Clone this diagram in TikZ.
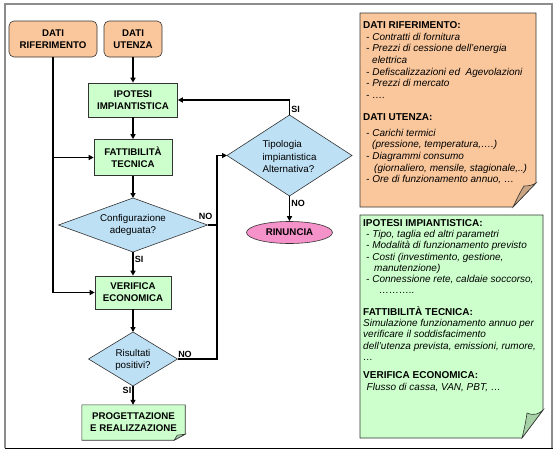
\documentclass[tikz,border=0pt]{standalone}
\usepackage{fontspec}
\setmainfont{Liberation Sans}
\usetikzlibrary{arrows.meta,shapes.geometric,backgrounds}
\definecolor{orfill}{HTML}{FAC79C}
\definecolor{orflap}{HTML}{C9A584}
\definecolor{grfill}{HTML}{CCFFCC}
\definecolor{grflap}{HTML}{A6D1A6}
\definecolor{blfill}{HTML}{BDE0F5}
\definecolor{pkfill}{HTML}{F592C9}
\begin{document}
\begin{tikzpicture}[x=1pt,y=-1pt,
  conn/.style={line width=1.5pt, draw=black},
  arr/.style={conn, -{Triangle[length=5pt,width=5pt]}},
  bord/.style={draw=black!80, line width=0.6pt},
  boxtext/.style={font=\bfseries\fontsize{9.7}{12}\selectfont, align=center, inner sep=0pt},
  datibox/.style={boxtext, bord, fill=orfill, rounded corners=5pt},
  stepbox/.style={boxtext, bord, fill=grfill},
  decision/.style={diamond, bord, fill=blfill, inner sep=0pt, outer sep=0pt},
  dtext/.style={inner sep=0pt, font=\fontsize{9.8}{12.5}\selectfont, align=center},
  lbl/.style={font=\bfseries\fontsize{9}{10}\selectfont, inner sep=1pt},
  notetext/.style={anchor=north west, inner sep=0pt, align=left, font=\itshape\fontsize{10}{11.7}\selectfont},
]
\useasboundingbox (0,0) rectangle (557,453);
% frame
\draw[black!45, line width=1.5pt] (5,448) -- (5,4) -- (552,4) -- (552,448);
\draw[black, line width=1pt] (4.5,448) -- (552.5,448);

% notes (shapes)
\draw[bord, fill=orfill] (360,13) -- (536,13) -- (536,183) -- (513,207) -- (360,207) -- cycle;
\draw[bord, fill=orflap] (513,207) .. controls (517,199) and (520,192) .. (524,186) .. controls (529,186) and (533,185) .. (536,183) -- cycle;
\draw[bord, fill=grfill] (360,215) -- (543,215) -- (543,410) -- (522,438) -- (360,438) -- cycle;
\draw[bord, fill=grflap] (522,438) .. controls (524,430) and (526,421) .. (527,413) .. controls (534,416) and (539,414) .. (543,410) -- cycle;

% note texts
\node[notetext] (rifA) at (363,21.3) {{\upshape\bfseries DATI RIFERIMENTO:}\\
\hspace*{3pt}- Contratti di fornitura\\
\hspace*{3pt}- Prezzi di cessione dell’energia\\
\hspace*{9pt}elettrica\\
\hspace*{3pt}- Defiscalizzazioni ed\ \ Agevolazioni\\
\hspace*{3pt}- Prezzi di mercato\\
\hspace*{3pt}- ….};
\node[notetext] (rifB) at (363,113.4) {{\upshape\bfseries DATI UTENZA:}\\[4pt]
\hspace*{3pt}- Carichi termici\\
\hspace*{9pt}(pressione, temperatura,….)\\
\hspace*{3pt}- Diagrammi consumo\\
\hspace*{11pt}(giornaliero, mensile, stagionale,..)\\
\hspace*{3pt}- Ore di funzionamento annuo, …};
\node[notetext, font=\itshape\fontsize{10}{11.2}\selectfont] (ipA) at (363,219.4) {{\upshape\bfseries IPOTESI IMPIANTISTICA:}\\
\hspace*{3pt}- Tipo, taglia ed altri parametri\\
\hspace*{3pt}- Modalità di funzionamento previsto\\
\hspace*{3pt}- Costi (investimento, gestione,\\
\hspace*{11pt}manutenzione)\\
\hspace*{3pt}- Connessione rete, caldaie soccorso,\\
\hspace*{16pt}………..};
\node[notetext, font=\itshape\fontsize{10}{11.2}\selectfont] (ipB) at (363,306.4) {{\upshape\bfseries FATTIBILITÀ TECNICA:}\\
Simulazione funzionamento annuo per\\
verificare il soddisfacimento\\
dell’utenza prevista, emissioni, rumore,\\
…};
\node[notetext, font=\itshape\fontsize{10}{12}\selectfont] (ipC) at (363,371.4) {{\upshape\bfseries VERIFICA ECONOMICA:}\\
\hspace*{3.5pt}Flusso di cassa, VAN, PBT, …};

% flowchart nodes
\node[datibox, minimum width=88pt, minimum height=36pt] (rif) at (53,39) {DATI\\RIFERIMENTO};
\node[datibox, minimum width=58pt, minimum height=36pt] (ute) at (133,39) {DATI\\UTENZA};
\node[stepbox, minimum width=89pt, minimum height=34pt] (ipo) at (133,100) {IPOTESI\\IMPIANTISTICA};
\node[stepbox, minimum width=78pt, minimum height=36pt] (fat) at (133,157.5) {FATTIBILITÀ\\TECNICA};
\node[decision, minimum width=149pt, minimum height=54pt] (cfg) at (133,225) {};
\node[dtext] (cfgt) at (cfg.center) {Configurazione\\adeguata?};
\node[stepbox, minimum width=76pt, minimum height=33pt] (ver) at (133,292.5) {VERIFICA\\ECONOMICA};
\node[decision, minimum width=89pt, minimum height=54pt] (ris) at (133,359) {};
\node[dtext] (rist) at ([yshift=-1pt]ris.center) {Risultati\\positivi?};
\node[boxtext, minimum width=103pt, minimum height=35pt] (prg) at (133.5,422.5) {PROGETTAZIONE\\E REALIZZAZIONE};
\node[decision, minimum width=125pt, minimum height=81pt] (tip) at (289.5,155.5) {};
\node[dtext, align=left] (tipt) at ([yshift=-1pt]tip.center) {Tipologia\\impiantistica\\Alternativa?};
\node[ellipse, bord, fill=pkfill, boxtext, minimum width=86pt, minimum height=22pt] (rin) at (289.5,232.5) {RINUNCIA};
\coordinate (bus) at (217,0);

\begin{scope}[on background layer]
\draw[bord, fill=grfill] (prg.north west) -- (prg.north east) -- ([yshift=6pt]prg.south east) -- ([xshift=-11pt]prg.south east) -- (prg.south west) -- cycle;
\end{scope}
\draw[bord, fill=grflap] ([xshift=-11pt]prg.south east) -- ([xshift=-8pt,yshift=5pt]prg.south east) -- ([yshift=6pt]prg.south east) -- cycle;

% connectors
\draw[arr] (ute) -- (ipo);
\draw[arr] (ipo) -- (fat);
\draw[arr] (fat) -- (cfg);
\draw[arr] (cfg.south) -- node[lbl, right, pos=0.3] {SI} (ver.north);
\draw[arr] (ver) -- (ris);
\draw[arr] (ris.south) -- node[lbl, left, pos=0.25] {SI} (ris.south |- prg.north);
\draw[arr] (rif.south) |- (ver.west);
\draw[arr] (rif.south |- fat.west) -- (fat.west);
\draw[conn] (cfg.east) -- node[lbl, above left, at end, xshift=-3pt, yshift=4pt] {NO} (cfg.east -| bus);
\draw[arr] (ris.east) -- node[lbl, above right, pos=0, inner sep=0pt, yshift=1pt] {NO} (ris.east -| bus) |- (tip.west);
\draw[arr] (tip.north) |- node[lbl, right, pos=0.2] {SI} (ipo.east);
\draw[arr] (tip.south) -- node[lbl, right, pos=0.3] {NO} (rin.north);
\end{tikzpicture}
\end{document}
